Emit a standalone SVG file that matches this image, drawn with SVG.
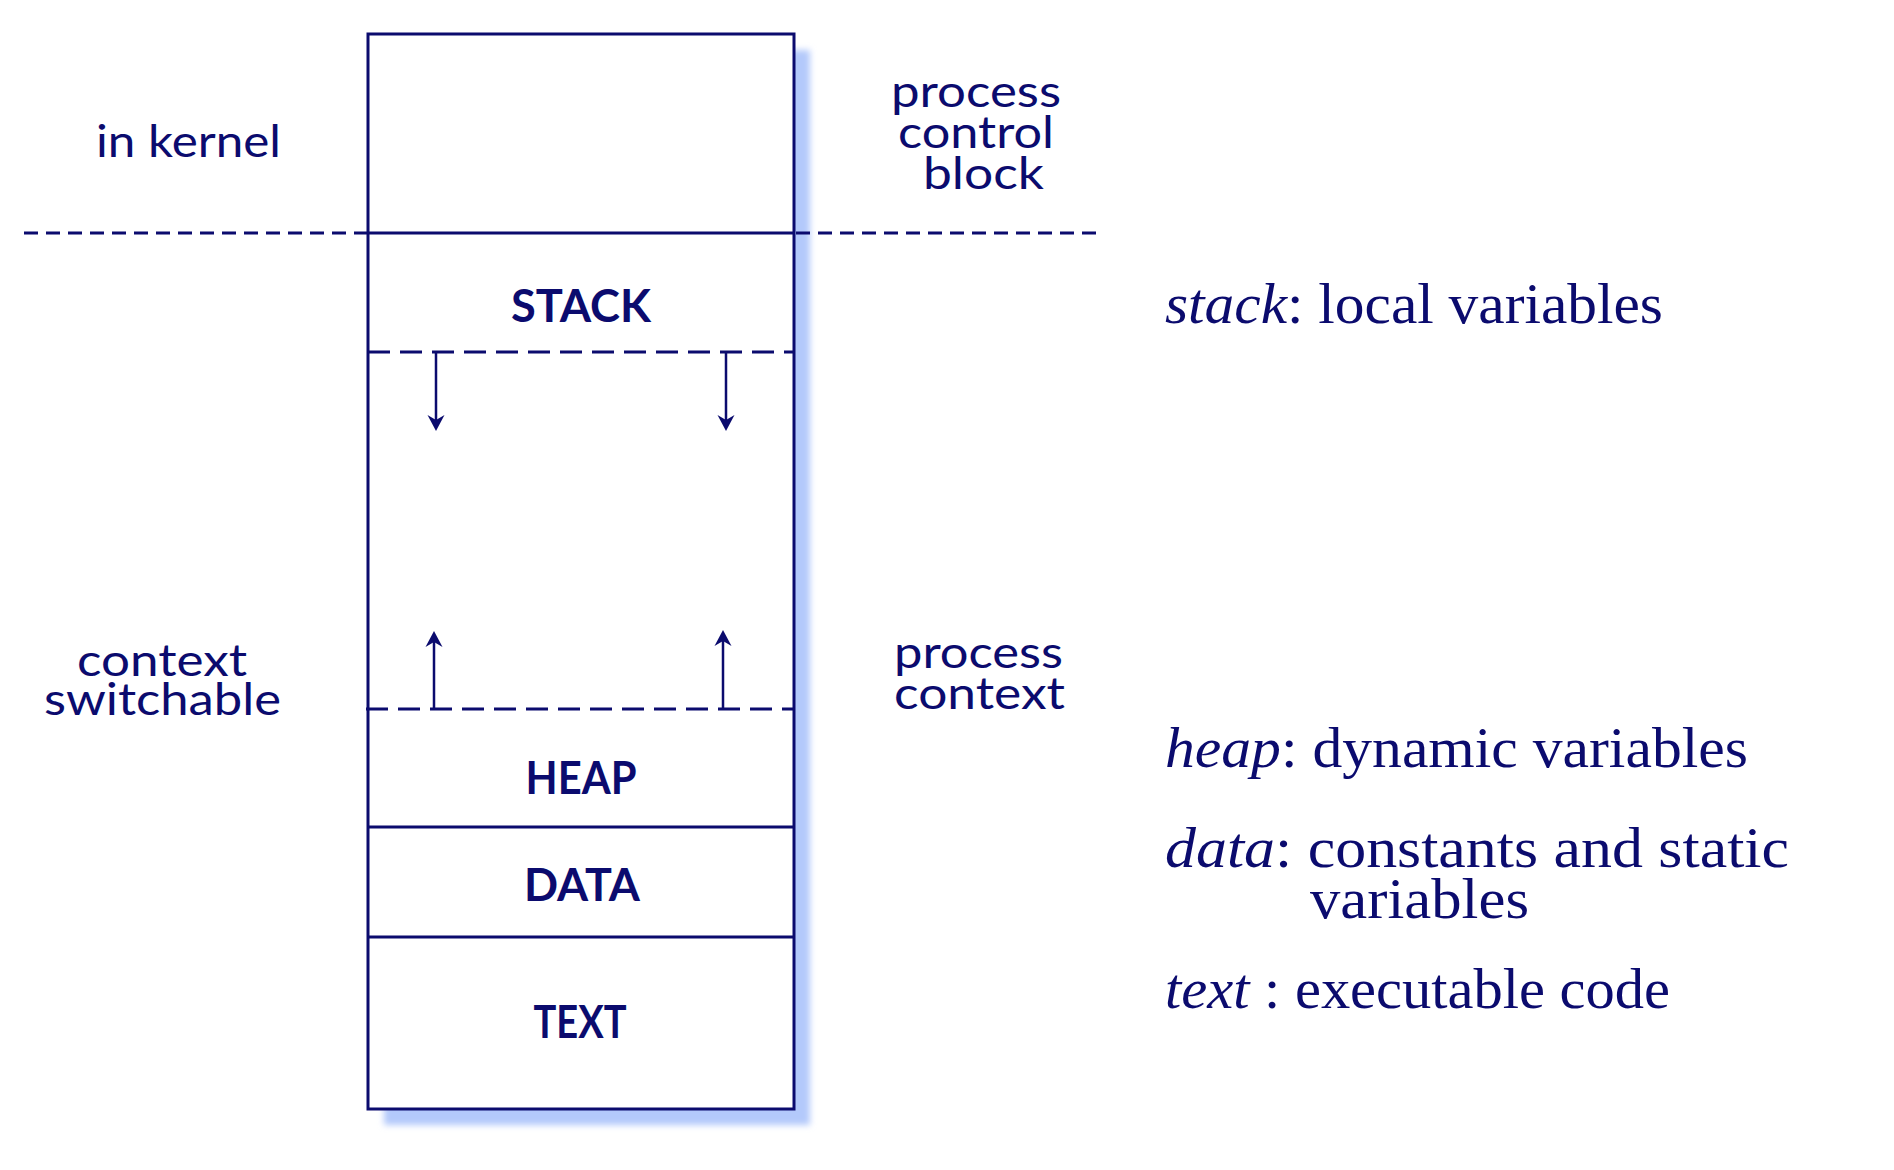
<svg xmlns="http://www.w3.org/2000/svg" width="1894" height="1170" viewBox="0 0 1894 1170">
<style>
.ln{stroke:#0b0b6e;stroke-width:3;fill:none}
.box{stroke:#0b0b6e;stroke-width:3;fill:#ffffff}
.dsh{stroke:#0b0b6e;stroke-width:3;fill:none;stroke-dasharray:22 10}
.kd{stroke:#0b0b6e;stroke-width:3;fill:none;stroke-dasharray:14 8}
.ar{stroke:#0b0b6e;stroke-width:2.5;fill:none}
.hd{fill:#0b0b6e;stroke:none}
.lbl{font-family:Lato,"Liberation Sans",sans-serif;font-size:44px;fill:#0b0b6e}
.seg{font-family:Lato,"Liberation Sans",sans-serif;font-size:46px;font-weight:bold;fill:#0b0b6e;text-anchor:middle}
.cm{font-family:"Liberation Serif",serif;font-size:58px;fill:#0b0b6e}
.it{font-style:italic}
</style>
<defs>
<filter id="blur" x="-10%" y="-10%" width="120%" height="120%"><feGaussianBlur stdDeviation="3"/></filter>
</defs>
<rect width="1894" height="1170" fill="#ffffff"/>
<g id="memory">
<rect x="384" y="50" width="426" height="1075" fill="#b3c9fb" filter="url(#blur)"/>
<rect x="368" y="34" width="426" height="1075" class="box"/>
</g>
<g id="connectors">
<line class="kd" x1="24" y1="233" x2="368" y2="233"/>
<line class="ln" x1="368" y1="233" x2="794" y2="233"/>
<line class="kd" x1="796" y1="233" x2="1104" y2="233"/>
<line class="dsh" x1="368" y1="352" x2="794" y2="352"/>
<line class="dsh" x1="366" y1="709" x2="794" y2="709"/>
<line class="ln" x1="368" y1="827" x2="794" y2="827"/>
<line class="ln" x1="368" y1="937" x2="794" y2="937"/>
<line class="ar" x1="436" y1="352" x2="436" y2="424"/>
<path class="hd" d="M436 431 L427.5 415 L436 420 L444.5 415 Z"/>
<line class="ar" x1="726" y1="352" x2="726" y2="424"/>
<path class="hd" d="M726 431 L717.5 415 L726 420 L734.5 415 Z"/>
<line class="ar" x1="434" y1="709" x2="434" y2="638"/>
<path class="hd" d="M434 631 L425.5 647 L434 642 L442.5 647 Z"/>
<line class="ar" x1="723" y1="709" x2="723" y2="637"/>
<path class="hd" d="M723 630 L714.5 646 L723 641 L731.5 646 Z"/>
</g>
<g id="stack"><text class="seg" x="581" y="322" textLength="140" lengthAdjust="spacingAndGlyphs">STACK</text></g>
<g id="heap"><text class="seg" x="581" y="794" textLength="111" lengthAdjust="spacingAndGlyphs">HEAP</text></g>
<g id="data"><text class="seg" x="582" y="901" textLength="116" lengthAdjust="spacingAndGlyphs">DATA</text></g>
<g id="text"><text class="seg" x="580" y="1038" textLength="93" lengthAdjust="spacingAndGlyphs">TEXT</text></g>
<g id="in-kernel"><text class="lbl" x="96" y="157" textLength="185" lengthAdjust="spacingAndGlyphs">in kernel</text></g>
<g id="pcb">
<text class="lbl" x="891" y="107" textLength="170" lengthAdjust="spacingAndGlyphs">process</text>
<text class="lbl" x="898" y="148" textLength="156" lengthAdjust="spacingAndGlyphs">control</text>
<text class="lbl" x="923" y="189" textLength="121" lengthAdjust="spacingAndGlyphs">block</text>
</g>
<g id="context-switchable">
<text class="lbl" x="77" y="676" textLength="170" lengthAdjust="spacingAndGlyphs">context</text>
<text class="lbl" x="44" y="715" textLength="237" lengthAdjust="spacingAndGlyphs">switchable</text>
</g>
<g id="process-context">
<text class="lbl" x="894" y="668" textLength="169" lengthAdjust="spacingAndGlyphs">process</text>
<text class="lbl" x="894" y="709" textLength="171" lengthAdjust="spacingAndGlyphs">context</text>
</g>
<g id="legend">
<text class="cm" x="1165" y="323" textLength="498" lengthAdjust="spacingAndGlyphs"><tspan class="it">stack</tspan>: local variables</text>
<text class="cm" x="1165" y="767" textLength="583" lengthAdjust="spacingAndGlyphs"><tspan class="it">heap</tspan>: dynamic variables</text>
<text class="cm" x="1165" y="867" textLength="624" lengthAdjust="spacingAndGlyphs"><tspan class="it">data</tspan>: constants and static</text>
<text class="cm" x="1310" y="918" textLength="219" lengthAdjust="spacingAndGlyphs">variables</text>
<text class="cm" x="1165" y="1008" textLength="505" lengthAdjust="spacingAndGlyphs"><tspan class="it">text</tspan> : executable code</text>
</g>
</svg>
